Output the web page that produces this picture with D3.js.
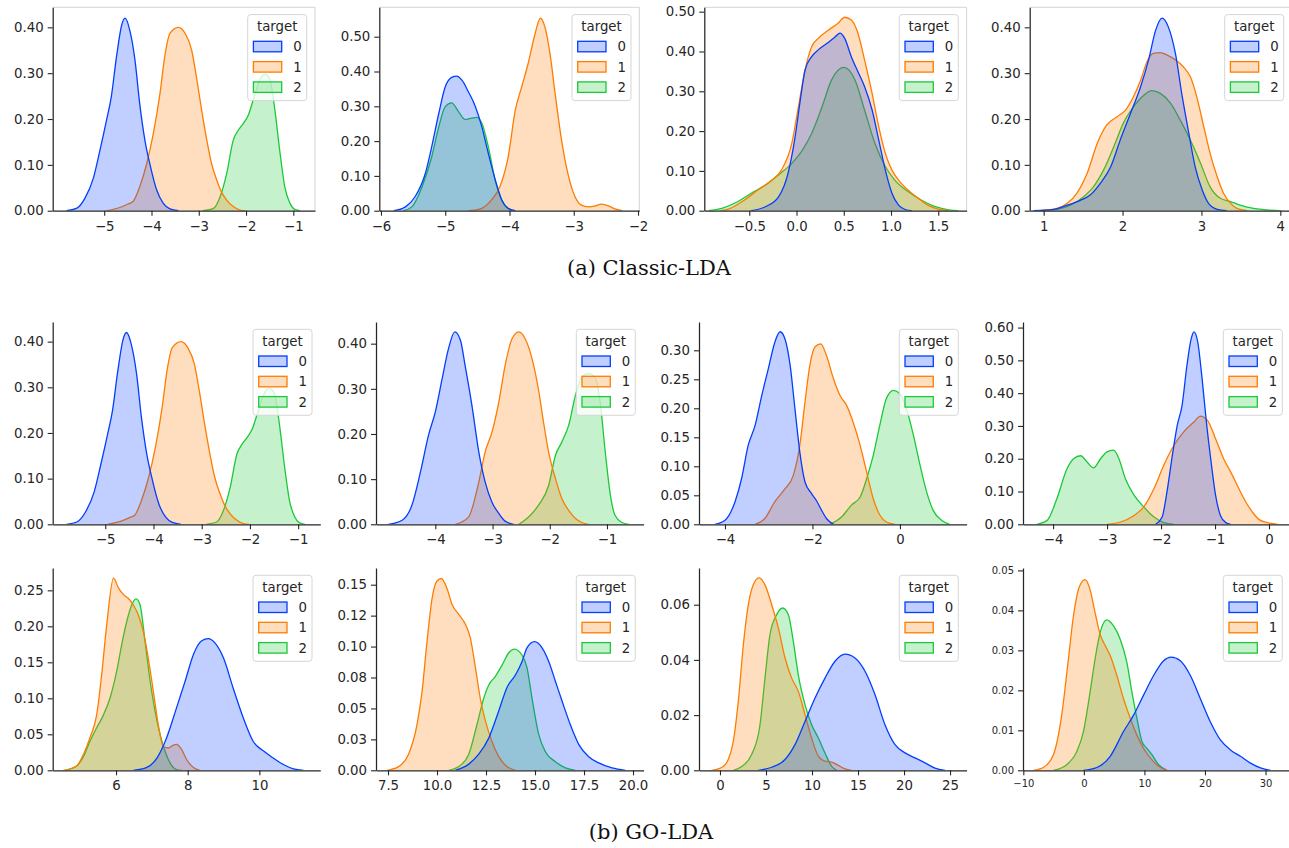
<!DOCTYPE html>
<html>
<head>
<meta charset="utf-8">
<script src="https://cdn.jsdelivr.net/npm/d3@7"></script>
<style>
body { margin: 0; background: #fff; }
svg { display: block; }
.tick text { font-family: "DejaVu Sans", sans-serif; fill: #262626; }
</style>
</head>
<body>
<script>
// density curves: [x, density]
// (a) Classic-LDA
const a1_t0 = [[-5.80,0],[-5.59,0.005],[-5.41,0.027],[-5.23,0.071],[-5.09,0.132],[-4.95,0.198],[-4.85,0.249],[-4.74,0.336],[-4.63,0.405],[-4.56,0.420],[-4.46,0.394],[-4.35,0.329],[-4.25,0.234],[-4.14,0.154],[-4.03,0.100],[-3.89,0.045],[-3.75,0.016],[-3.61,0.004],[-3.43,0]];
const a1_t1 = [[-4.95,0],[-4.67,0.007],[-4.49,0.015],[-4.39,0.020],[-4.25,0.052],[-4.10,0.103],[-3.96,0.169],[-3.82,0.256],[-3.72,0.336],[-3.61,0.387],[-3.43,0.400],[-3.29,0.387],[-3.15,0.350],[-3.05,0.292],[-2.94,0.220],[-2.83,0.154],[-2.73,0.103],[-2.62,0.067],[-2.52,0.041],[-2.41,0.023],[-2.27,0.009],[-2.13,0.0015],[-2.02,0]];
const a1_t2 = [[-2.91,0],[-2.69,0.005],[-2.55,0.030],[-2.41,0.081],[-2.27,0.154],[-2.16,0.176],[-2.06,0.190],[-1.95,0.209],[-1.85,0.241],[-1.71,0.285],[-1.60,0.298],[-1.49,0.285],[-1.39,0.220],[-1.28,0.125],[-1.18,0.052],[-1.07,0.016],[-0.97,0.003],[-0.86,0]];

const a2_t0 = [[-5.80,0],[-5.62,0.011],[-5.47,0.040],[-5.31,0.107],[-5.21,0.184],[-5.10,0.280],[-5.00,0.356],[-4.90,0.383],[-4.82,0.387],[-4.74,0.375],[-4.64,0.342],[-4.53,0.299],[-4.43,0.241],[-4.33,0.165],[-4.22,0.088],[-4.12,0.031],[-4.02,0.007],[-3.91,0]];
const a2_t1 = [[-4.64,0],[-4.43,0.007],[-4.28,0.031],[-4.15,0.069],[-4.02,0.155],[-3.91,0.289],[-3.81,0.356],[-3.71,0.423],[-3.60,0.510],[-3.52,0.553],[-3.45,0.529],[-3.37,0.452],[-3.29,0.337],[-3.19,0.203],[-3.08,0.098],[-2.98,0.040],[-2.88,0.016],[-2.77,0.011],[-2.67,0.013],[-2.57,0.019],[-2.46,0.014],[-2.36,0.005],[-2.25,0]];
const a2_t2 = [[-5.65,0],[-5.52,0.011],[-5.36,0.069],[-5.21,0.155],[-5.10,0.241],[-5.00,0.299],[-4.90,0.310],[-4.79,0.284],[-4.69,0.262],[-4.61,0.265],[-4.51,0.268],[-4.43,0.251],[-4.33,0.184],[-4.22,0.085],[-4.12,0.030],[-4.04,0.008],[-3.96,0]];

const a3_t0 = [[-0.48,0],[-0.33,0.010],[-0.19,0.035],[-0.09,0.094],[-0.02,0.178],[0.04,0.278],[0.09,0.353],[0.16,0.387],[0.23,0.404],[0.32,0.420],[0.41,0.437],[0.46,0.446],[0.51,0.433],[0.58,0.387],[0.65,0.349],[0.72,0.312],[0.80,0.253],[0.87,0.178],[0.94,0.102],[1.01,0.044],[1.08,0.014],[1.15,0.003],[1.22,0]];
const a3_t1 = [[-0.80,0],[-0.72,0.004],[-0.55,0.027],[-0.41,0.052],[-0.26,0.077],[-0.16,0.102],[-0.05,0.169],[0.02,0.261],[0.09,0.353],[0.16,0.412],[0.23,0.433],[0.34,0.454],[0.44,0.471],[0.51,0.486],[0.58,0.479],[0.65,0.446],[0.72,0.379],[0.80,0.295],[0.87,0.211],[0.94,0.144],[1.01,0.102],[1.08,0.077],[1.18,0.052],[1.29,0.031],[1.39,0.014],[1.50,0.004],[1.61,0]];
const a3_t2 = [[-0.93,0],[-0.79,0.006],[-0.62,0.023],[-0.48,0.044],[-0.33,0.064],[-0.19,0.090],[-0.05,0.119],[0.05,0.148],[0.16,0.194],[0.27,0.261],[0.37,0.328],[0.50,0.360],[0.62,0.328],[0.72,0.253],[0.83,0.169],[0.94,0.111],[1.04,0.077],[1.18,0.048],[1.32,0.027],[1.47,0.010],[1.61,0.002],[1.71,0]];

const a4_t0 = [[0.87,0],[1.13,0.003],[1.30,0.012],[1.47,0.023],[1.59,0.034],[1.72,0.060],[1.85,0.096],[1.97,0.154],[2.10,0.212],[2.23,0.271],[2.33,0.329],[2.42,0.394],[2.50,0.420],[2.58,0.401],[2.67,0.343],[2.75,0.256],[2.84,0.169],[2.92,0.096],[3.01,0.045],[3.09,0.016],[3.20,0.003],[3.32,0]];
const a4_t1 = [[0.96,0],[1.17,0.005],[1.30,0.016],[1.42,0.038],[1.55,0.081],[1.68,0.147],[1.80,0.187],[1.93,0.205],[2.04,0.220],[2.14,0.249],[2.23,0.285],[2.31,0.325],[2.39,0.343],[2.48,0.345],[2.56,0.340],[2.67,0.329],[2.77,0.314],[2.86,0.292],[2.94,0.249],[3.03,0.183],[3.11,0.125],[3.20,0.074],[3.28,0.038],[3.37,0.016],[3.45,0.005],[3.58,0]];
const a4_t2 = [[0.96,0],[1.17,0.003],[1.34,0.012],[1.51,0.031],[1.63,0.052],[1.76,0.089],[1.89,0.140],[2.01,0.191],[2.14,0.227],[2.27,0.252],[2.37,0.262],[2.48,0.256],[2.61,0.234],[2.73,0.198],[2.86,0.154],[2.99,0.103],[3.11,0.052],[3.24,0.027],[3.37,0.020],[3.49,0.012],[3.66,0.005],[3.83,0.0015],[4.00,0]];

// (b) GO-LDA, first row (first panel repeats a1)
const b2_t0 = [[-4.82,0],[-4.58,0.009],[-4.41,0.042],[-4.26,0.116],[-4.12,0.197],[-4.00,0.249],[-3.88,0.323],[-3.77,0.389],[-3.66,0.426],[-3.56,0.407],[-3.48,0.352],[-3.36,0.263],[-3.24,0.160],[-3.13,0.094],[-3.01,0.049],[-2.89,0.024],[-2.78,0.007],[-2.63,0]];
const b2_t1 = [[-3.65,0],[-3.42,0.016],[-3.24,0.094],[-3.13,0.160],[-3.01,0.204],[-2.89,0.271],[-2.78,0.352],[-2.66,0.411],[-2.54,0.426],[-2.43,0.411],[-2.31,0.367],[-2.19,0.293],[-2.11,0.227],[-2.02,0.160],[-1.90,0.101],[-1.79,0.057],[-1.67,0.031],[-1.55,0.013],[-1.44,0.004],[-1.32,0]];
const b2_t2 = [[-2.54,0],[-2.37,0.016],[-2.20,0.042],[-2.02,0.086],[-1.90,0.153],[-1.79,0.182],[-1.67,0.219],[-1.55,0.286],[-1.44,0.326],[-1.32,0.334],[-1.20,0.323],[-1.12,0.271],[-1.03,0.160],[-0.94,0.064],[-0.86,0.020],[-0.74,0.004],[-0.62,0]];

const b3_t0 = [[-4.23,0],[-4.00,0.007],[-3.77,0.039],[-3.62,0.079],[-3.47,0.136],[-3.31,0.171],[-3.16,0.222],[-3.01,0.268],[-2.86,0.314],[-2.74,0.332],[-2.63,0.320],[-2.51,0.274],[-2.40,0.199],[-2.29,0.125],[-2.17,0.073],[-2.02,0.053],[-1.91,0.041],[-1.79,0.024],[-1.68,0.010],[-1.52,0]];
const b3_t1 = [[-3.31,0],[-3.09,0.010],[-2.86,0.039],[-2.63,0.061],[-2.44,0.084],[-2.29,0.136],[-2.17,0.211],[-2.06,0.274],[-1.94,0.306],[-1.81,0.311],[-1.68,0.291],[-1.52,0.251],[-1.37,0.222],[-1.22,0.205],[-1.07,0.176],[-0.91,0.136],[-0.76,0.090],[-0.61,0.044],[-0.46,0.016],[-0.31,0.004],[-0.11,0]];
const b3_t2 = [[-1.60,0],[-1.33,0.013],[-1.11,0.033],[-0.91,0.047],[-0.76,0.079],[-0.61,0.119],[-0.46,0.171],[-0.31,0.217],[-0.15,0.231],[0.00,0.225],[0.15,0.199],[0.31,0.153],[0.46,0.102],[0.61,0.056],[0.76,0.024],[0.95,0.007],[1.14,0]];

const b4_t0 = [[-2.10,0],[-1.98,0.022],[-1.89,0.099],[-1.79,0.211],[-1.70,0.302],[-1.61,0.363],[-1.52,0.485],[-1.44,0.567],[-1.39,0.587],[-1.32,0.556],[-1.24,0.445],[-1.16,0.312],[-1.08,0.200],[-0.99,0.089],[-0.90,0.027],[-0.80,0.005],[-0.71,0]];
const b4_t1 = [[-3.00,0],[-2.75,0.007],[-2.50,0.027],[-2.32,0.053],[-2.13,0.109],[-1.95,0.180],[-1.76,0.241],[-1.58,0.282],[-1.39,0.312],[-1.27,0.330],[-1.14,0.317],[-0.99,0.261],[-0.84,0.200],[-0.68,0.150],[-0.56,0.109],[-0.43,0.068],[-0.31,0.038],[-0.19,0.015],[-0.03,0.005],[0.16,0]];
const b4_t2 = [[-4.30,0],[-4.11,0.012],[-3.93,0.078],[-3.74,0.170],[-3.62,0.200],[-3.49,0.209],[-3.37,0.190],[-3.25,0.172],[-3.12,0.200],[-3.00,0.221],[-2.88,0.226],[-2.78,0.200],[-2.66,0.139],[-2.50,0.089],[-2.32,0.053],[-2.13,0.022],[-1.95,0.005],[-1.76,0]];

// (b) GO-LDA, second row
const c1_t0 = [[6.48,0],[6.86,0.004],[7.14,0.017],[7.41,0.045],[7.69,0.087],[7.93,0.124],[8.16,0.161],[8.39,0.180],[8.58,0.183],[8.76,0.177],[9.00,0.156],[9.27,0.114],[9.55,0.073],[9.83,0.040],[10.11,0.027],[10.39,0.017],[10.67,0.008],[10.95,0.002],[11.23,0]];
const c1_t1 = [[4.53,0],[4.90,0.006],[5.09,0.022],[5.27,0.045],[5.46,0.077],[5.60,0.133],[5.74,0.202],[5.93,0.267],[6.07,0.253],[6.21,0.244],[6.34,0.239],[6.48,0.230],[6.62,0.216],[6.76,0.193],[6.90,0.156],[7.04,0.110],[7.18,0.063],[7.32,0.033],[7.46,0.031],[7.60,0.035],[7.69,0.036],[7.83,0.029],[7.97,0.015],[8.16,0.004],[8.34,0]];
const c1_t2 = [[4.58,0],[4.90,0.006],[5.09,0.019],[5.27,0.040],[5.46,0.059],[5.65,0.077],[5.83,0.100],[6.02,0.138],[6.16,0.175],[6.30,0.207],[6.44,0.230],[6.56,0.238],[6.67,0.230],[6.81,0.179],[6.95,0.124],[7.09,0.082],[7.23,0.050],[7.37,0.026],[7.51,0.010],[7.69,0.001],[7.83,0]];

const c2_t0 = [[10.94,0],[11.62,0.005],[12.13,0.013],[12.64,0.026],[13.15,0.048],[13.57,0.067],[14.00,0.077],[14.34,0.088],[14.59,0.099],[14.98,0.104],[15.36,0.099],[15.70,0.088],[16.04,0.072],[16.38,0.056],[16.80,0.037],[17.23,0.021],[17.74,0.011],[18.25,0.006],[18.93,0.002],[19.61,0]];
const c2_t1 = [[7.45,0],[8.04,0.003],[8.55,0.013],[8.98,0.037],[9.24,0.064],[9.49,0.104],[9.75,0.139],[10.00,0.153],[10.22,0.155],[10.51,0.147],[10.77,0.134],[11.11,0.126],[11.45,0.118],[11.70,0.107],[11.96,0.083],[12.21,0.058],[12.47,0.040],[12.81,0.023],[13.15,0.011],[13.57,0.003],[14.00,0]];
const c2_t2 = [[10.60,0],[11.11,0.003],[11.62,0.013],[12.04,0.037],[12.38,0.058],[12.64,0.069],[12.98,0.076],[13.32,0.085],[13.66,0.095],[13.96,0.098],[14.34,0.093],[14.59,0.083],[14.85,0.058],[15.19,0.029],[15.53,0.015],[16.04,0.007],[16.55,0.002],[17.06,0]];

const c3_t0 = [[4.17,0],[5.62,0.0011],[7.07,0.0039],[8.15,0.0093],[9.24,0.0177],[10.33,0.0262],[11.41,0.0334],[12.50,0.0395],[13.59,0.0421],[14.67,0.0407],[15.76,0.0359],[16.85,0.0274],[17.93,0.0165],[19.02,0.0093],[20.11,0.0063],[21.20,0.0045],[22.28,0.0027],[23.37,0.0008],[24.46,0]];
const c3_t1 = [[-0.91,0],[0.18,0.001],[0.91,0.004],[1.45,0.0105],[1.99,0.025],[2.54,0.0455],[3.08,0.060],[3.62,0.0672],[4.24,0.0697],[4.89,0.0672],[5.62,0.060],[6.34,0.0516],[7.07,0.0407],[7.79,0.0334],[8.51,0.0286],[9.24,0.0202],[9.96,0.0117],[10.69,0.0051],[11.41,0.0033],[12.14,0.003],[12.86,0.0018],[13.59,0.0005],[14.31,0]];
const c3_t2 = [[1.45,0],[2.36,0.0014],[3.44,0.0057],[4.35,0.0165],[4.89,0.0334],[5.43,0.0491],[6.16,0.0564],[6.81,0.0588],[7.43,0.0564],[7.97,0.0467],[8.51,0.0346],[9.24,0.0238],[9.96,0.0165],[10.69,0.0117],[11.41,0.0063],[12.14,0.0014],[12.68,0]];

const c4_t0 = [[-0.07,0],[2.14,0.0007],[4.35,0.0035],[6.55,0.0097],[8.21,0.0138],[9.86,0.0188],[11.52,0.0237],[13.17,0.0274],[14.39,0.0283],[15.93,0.0274],[17.59,0.0237],[19.24,0.0179],[20.90,0.0121],[22.55,0.0076],[24.21,0.0051],[25.86,0.0035],[27.52,0.0018],[29.17,0.0006],[30.83,0]];
const c4_t1 = [[-8.35,0],[-6.69,0.0007],[-5.03,0.0039],[-3.66,0.0138],[-2.55,0.0279],[-1.72,0.0386],[-0.73,0.046],[0.21,0.0477],[1.03,0.0452],[1.86,0.0394],[2.69,0.034],[3.52,0.0312],[4.35,0.0287],[5.45,0.0237],[6.55,0.0179],[7.66,0.013],[8.76,0.0088],[9.86,0.0055],[10.97,0.0031],[12.34,0.001],[13.72,0]];
const c4_t2 = [[-5.03,0],[-2.83,0.0014],[-1.17,0.0047],[-0.07,0.0097],[1.03,0.0196],[1.86,0.0279],[2.69,0.0345],[3.79,0.0376],[4.90,0.0361],[6.00,0.0328],[7.10,0.027],[7.93,0.0196],[8.76,0.013],[9.59,0.0072],[10.41,0.0055],[11.24,0.0039],[12.34,0.0014],[13.72,0]];

// tick values and labels
const xt_a1 = [-5, -4, -3, -2, -1];
const xt_a2 = [-6, -5, -4, -3, -2];
const xt_a3 = [-0.5, 0, 0.5, 1, 1.5];
const xt_a4 = [1, 2, 3, 4];
const xt_b2 = [-4, -3, -2, -1];
const xt_b3 = [-4, -2, 0];
const xt_b4 = [-4, -3, -2, -1, 0];
const xt_c1 = [6, 8, 10];
const xt_c2 = [7.5, 10, 12.5, 15, 17.5, 20];
const xt_c3 = [0, 5, 10, 15, 20, 25];
const xt_c4 = [-10, 0, 10, 20, 30];

const yt_04 = [0, 0.1, 0.2, 0.3, 0.4];
const yt_05 = [0, 0.1, 0.2, 0.3, 0.4, 0.5];
const yt_b3 = [0, 0.05, 0.1, 0.15, 0.2, 0.25, 0.3];
const yt_b4 = [0, 0.1, 0.2, 0.3, 0.4, 0.5, 0.6];
const yt_c1 = [0, 0.05, 0.1, 0.15, 0.2, 0.25];
const yt_c2 = [0, 0.025, 0.05, 0.075, 0.1, 0.125, 0.15];
const yl_c2 = ["0.00", "0.03", "0.05", "0.08", "0.10", "0.12", "0.15"];
const yt_c3 = [0, 0.02, 0.04, 0.06];
const yt_c4 = [0, 0.01, 0.02, 0.03, 0.04, 0.05];

const levels = ["0", "1", "2"];
const colors = ["#023eff", "#ff7c00", "#1ac938"];
const captions = ["(a) Classic-LDA", "(b) GO-LDA"];

// layout
const rows = [{top: 7.3, bottom: 210.7}, {top: 322, bottom: 524.3}, {top: 568, bottom: 770.3}];
const lefts0 = [52.7, 379.3, 704.3, 1029.7], width0 = 262.3;
const lefts1 = [52.7, 376, 699, 1023], width1 = 267.6;

const panels = [
  {r:0, c:0, curves:[a1_t0,a1_t1,a1_t2], xd:[-6.09,-0.541], yd:0.4437, xt:xt_a1, yt:yt_04, xf:".0f"},
  {r:0, c:1, curves:[a2_t0,a2_t1,a2_t2], xd:[-6.026,-1.98], yd:0.5845, xt:xt_a2, yt:yt_05, xf:".0f", w:260},
  {r:0, c:2, curves:[a3_t0,a3_t1,a3_t2], xd:[-0.976,1.80], yd:0.511, xt:xt_a3, yt:yt_05, xf:".1f"},
  {r:0, c:3, curves:[a4_t0,a4_t1,a4_t2], xd:[0.823,4.148], yd:0.4437, xt:xt_a4, yt:yt_04, xf:".0f"},
  {r:1, c:0, curves:[a1_t0,a1_t1,a1_t2], xd:[-6.09,-0.541], yd:0.443, xt:xt_a1, yt:yt_04, xf:".0f"},
  {r:1, c:1, curves:[b2_t0,b2_t1,b2_t2], xd:[-5.037,-0.36], yd:0.448, xt:xt_b2, yt:yt_04, xf:".0f"},
  {r:1, c:2, curves:[b3_t0,b3_t1,b3_t2], xd:[-4.594,1.524], yd:0.3488, xt:xt_b3, yt:yt_b3, xf:".0f"},
  {r:1, c:3, curves:[b4_t0,b4_t1,b4_t2], xd:[-4.557,0.40], yd:0.617, xt:xt_b4, yt:yt_b4, xf:".0f"},
  {r:2, c:0, curves:[c1_t0,c1_t1,c1_t2], xd:[4.233,11.70], yd:0.281, xt:xt_c1, yt:yt_c1, xf:".0f"},
  {r:2, c:1, curves:[c2_t0,c2_t1,c2_t2], xd:[6.888,20.54], yd:0.1635, xt:xt_c2, yt:yt_c2, yl:yl_c2, xf:".1f"},
  {r:2, c:2, curves:[c3_t0,c3_t1,c3_t2], xd:[-2.28,26.8], yd:0.0733, xt:xt_c3, yt:yt_c3, xf:".0f"},
  {r:2, c:3, curves:[c4_t0,c4_t1,c4_t2], xd:[-10.05,34.14], yd:0.0506, xt:xt_c4, yt:yt_c4, xf:".0f", small:true}
];

const svg = d3.select("body").append("svg")
  .attr("width", 1289)
  .attr("height", 848)
  .style("background", "#fff");

const ink = "#262626";

panels.forEach(function(p, i) {
  const row = rows[p.r];
  const left = p.r == 0 ? lefts0[p.c] : lefts1[p.c];
  const w = p.w || (p.r == 0 ? width0 : width1);
  const right = left + w;

  const x = d3.scaleLinear().domain(p.xd).range([left, right]);
  const y = d3.scaleLinear().domain([0, p.yd]).range([row.bottom, row.top]);

  const g = svg.append("g");
  const clipId = "clip" + i;
  g.append("clipPath").attr("id", clipId)
    .append("rect").attr("x", left).attr("y", row.top - 2)
    .attr("width", w).attr("height", row.bottom - row.top + 2);

  // seaborn layers the last hue level first
  const area = d3.area().x(d => x(d[0])).y0(y(0)).y1(d => y(d[1])).curve(d3.curveMonotoneX);
  const line = d3.line().x(d => x(d[0])).y(d => y(d[1])).curve(d3.curveMonotoneX);
  const plot = g.append("g").attr("clip-path", "url(#" + clipId + ")");
  [2, 1, 0].forEach(function(k) {
    plot.append("path").attr("d", area(p.curves[k]))
      .attr("fill", colors[k]).attr("fill-opacity", 0.25);
    plot.append("path").attr("d", line(p.curves[k]))
      .attr("fill", "none").attr("stroke", colors[k]).attr("stroke-width", 1.3);
  });

  // light frame on the first row
  if (p.r == 0) {
    g.append("path")
      .attr("d", `M${left},${row.top}H${right}V${row.bottom}`)
      .attr("fill", "none").attr("stroke", "#d4d4d4").attr("stroke-width", 1);
  }

  const fs = p.small ? 10 : 13.3;
  const xAxis = d3.axisBottom(x).tickValues(p.xt).tickFormat(d3.format(p.xf))
    .tickSizeInner(5).tickSizeOuter(0).tickPadding(p.small ? 5 : 5.5);
  const yFmt = p.yl ? (d, j) => p.yl[j] : d3.format(".2f");
  const yAxis = d3.axisLeft(y).tickValues(p.yt).tickFormat(yFmt)
    .tickSizeInner(5).tickSizeOuter(0).tickPadding(4);

  const gx = g.append("g").attr("transform", `translate(0,${row.bottom})`).call(xAxis);
  const gy = g.append("g").attr("transform", `translate(${left},0)`).call(yAxis);
  [gx, gy].forEach(function(a) {
    a.select(".domain").attr("stroke", ink).attr("stroke-width", 1.25);
    a.selectAll(".tick line").attr("stroke", ink).attr("stroke-width", 1.1);
    a.selectAll(".tick text").style("font-size", fs + "px");
  });

  // legend
  const lw = 59, lh = 86;
  const lx = right - 8.3 - lw, ly = row.top + 7.3;
  const leg = g.append("g").attr("transform", `translate(${lx},${ly})`);
  leg.append("rect").attr("width", lw).attr("height", lh).attr("rx", 3)
    .attr("fill", "#fff").attr("fill-opacity", 0.8)
    .attr("stroke", "#d6d6d6").attr("stroke-width", 1);
  leg.append("text").attr("x", lw / 2).attr("y", 16.5)
    .attr("text-anchor", "middle")
    .style("font-family", "DejaVu Sans, sans-serif").style("font-size", "13.3px")
    .attr("fill", ink).text("target");
  levels.forEach(function(lab, k) {
    const ty = 26.7 + k * 20.3;
    leg.append("rect").attr("x", 5.7).attr("y", ty).attr("width", 28.3).attr("height", 10.5)
      .attr("fill", colors[k]).attr("fill-opacity", 0.25)
      .attr("stroke", colors[k]).attr("stroke-width", 1.3);
    leg.append("text").attr("x", 45.5).attr("y", ty + 5.25 + 4.8)
      .style("font-family", "DejaVu Sans, sans-serif").style("font-size", "13.3px")
      .attr("fill", ink).text(lab);
  });
});

// captions
svg.append("text").attr("x", 649).attr("y", 275).attr("text-anchor", "middle")
  .style("font-family", "DejaVu Serif, serif").style("font-size", "21px")
  .attr("fill", "#111").text(captions[0]);
svg.append("text").attr("x", 651).attr("y", 839).attr("text-anchor", "middle")
  .style("font-family", "DejaVu Serif, serif").style("font-size", "21px")
  .attr("fill", "#111").text(captions[1]);
</script>
</body>
</html>
